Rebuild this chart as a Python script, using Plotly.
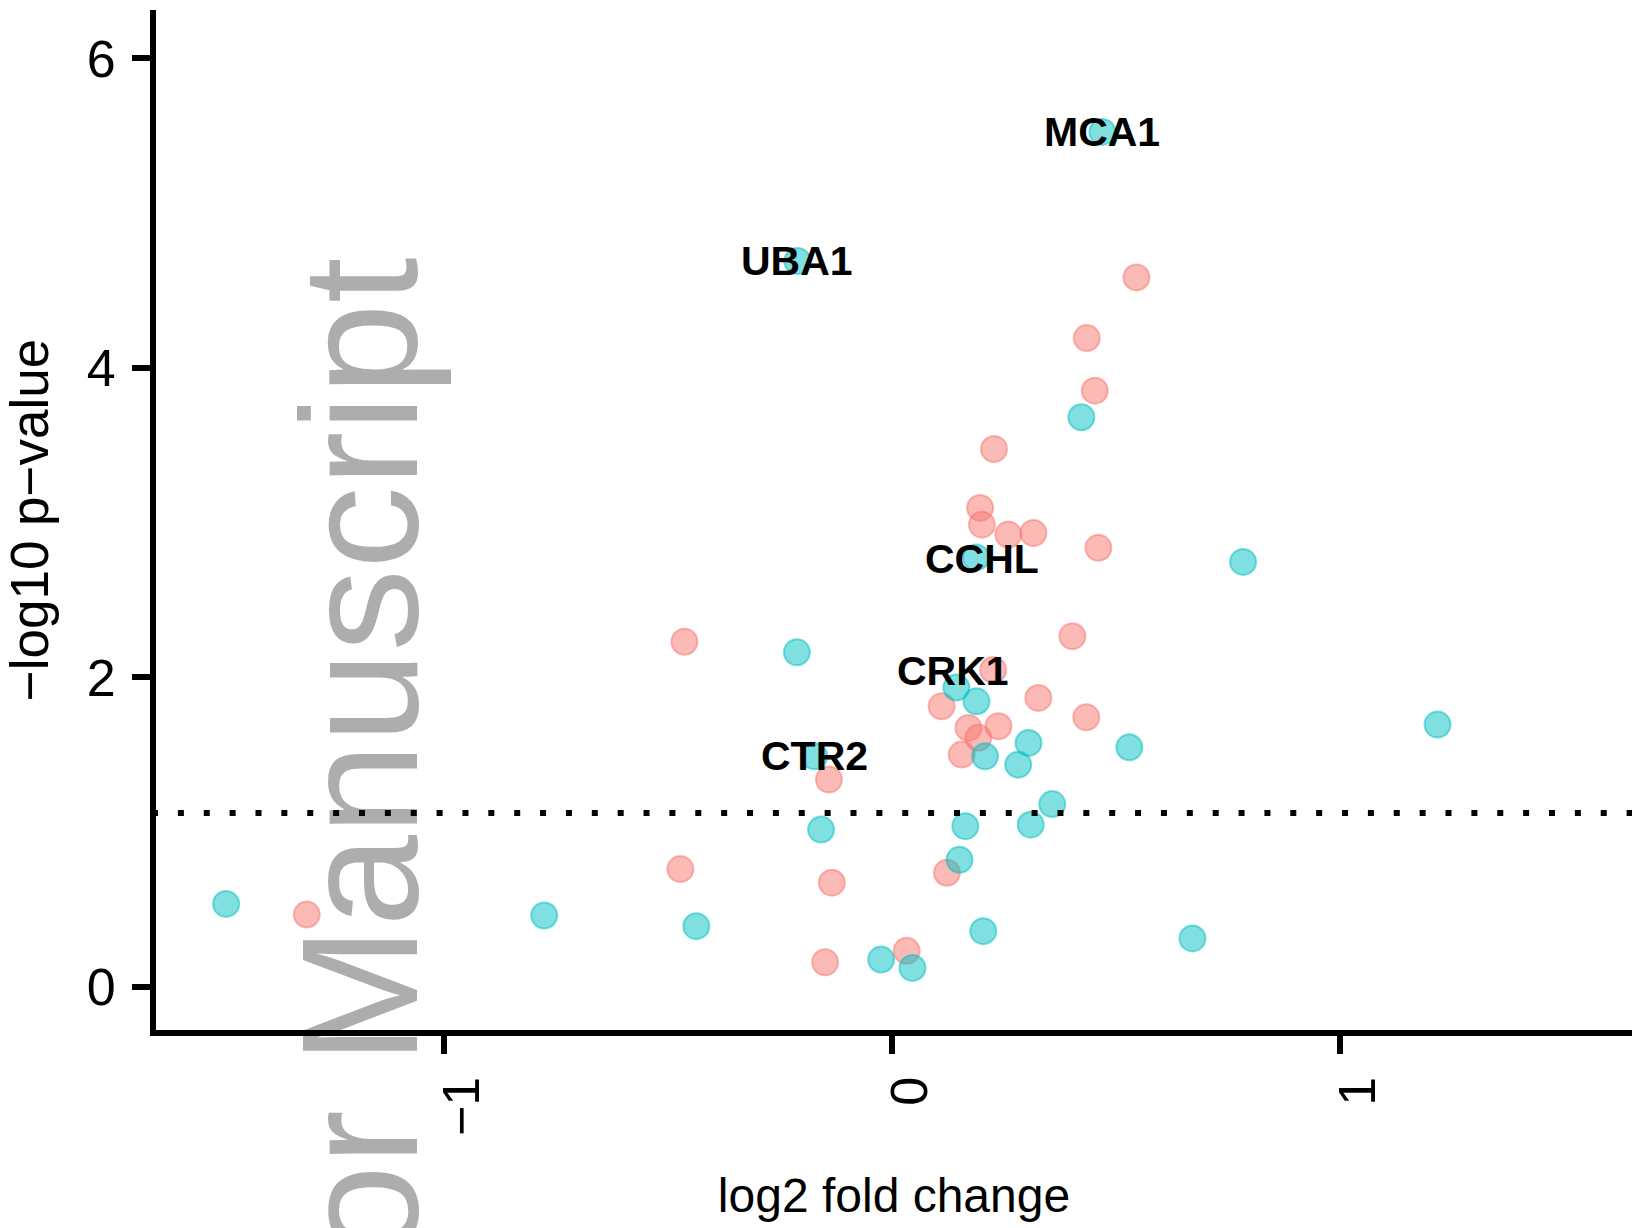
import plotly.graph_objects as go

# ---- data ----
# salmon group
salmon_x = [0.545, 0.434, 0.452, 0.227, 0.196, 0.200, 0.259, 0.315, 0.460, -0.464,
            0.402, 0.225, 0.110, 0.326, 0.433, 0.170, 0.237, 0.192, 0.155, -0.1415,
            -0.473, -0.135, 0.122, -1.307, -0.150, 0.032]
salmon_y = [4.585, 4.193, 3.853, 3.476, 3.095, 2.987, 2.923, 2.933, 2.837, 2.230,
            2.266, 2.048, 1.813, 1.867, 1.742, 1.673, 1.684, 1.609, 1.501, 1.340,
            0.761, 0.673, 0.737, 0.467, 0.159, 0.233]
# teal group
teal_x = [0.469, -0.212, 0.422, 0.187, 0.783, -0.213, 0.143, 0.188, 1.217, 0.529,
          0.304, 0.207, 0.281, -0.174, 0.357, -0.159, 0.163, 0.309, 0.150, -1.487,
          -0.777, -0.4375, 0.203, 0.670, -0.025, 0.045]
teal_y = [5.525, 4.691, 3.681, 2.775, 2.746, 2.162, 1.934, 1.845, 1.695, 1.548,
          1.576, 1.490, 1.436, 1.490, 1.181, 1.016, 1.038, 1.048, 0.821, 0.536,
          0.461, 0.392, 0.360, 0.313, 0.176, 0.122]

gene_labels = ["MCA1", "UBA1", "CCHL", "CRK1", "CTR2"]
label_x = [0.469, -0.212, 0.201, 0.136, -0.174]
label_y = [5.525, 4.691, 2.767, 2.040, 1.490]

threshold = 1.124
x_ticks = [-1, 0, 1]
x_ticktext = ["\u22121", "0", "1"]
y_ticks = [0, 2, 4, 6]
y_ticktext = ["0", "2", "4", "6"]

FONT = "Liberation Sans, Arial, Helvetica, sans-serif"

fig = go.Figure()
fig.add_trace(go.Scatter(
    x=salmon_x, y=salmon_y, mode="markers", showlegend=False,
    marker=dict(size=26, color="rgba(248,118,109,0.5)",
                line=dict(width=2, color="rgba(248,118,109,0.5)")),
))
fig.add_trace(go.Scatter(
    x=teal_x, y=teal_y, mode="markers", showlegend=False,
    marker=dict(size=26, color="rgba(0,191,196,0.5)",
                line=dict(width=2, color="rgba(0,191,196,0.5)")),
))

fig.add_shape(type="line", xref="paper", yref="y", x0=-0.0027, x1=1,
              y0=threshold, y1=threshold,
              line=dict(color="black", width=6, dash="6px,19.87px"))

for name, lx, ly in zip(gene_labels, label_x, label_y):
    fig.add_annotation(x=lx, y=ly, text="<b>%s</b>" % name, showarrow=False,
                       xanchor="center", yanchor="middle",
                       font=dict(family="Liberation Sans Narrow, " + FONT, size=41, color="black"))

# watermark
fig.add_annotation(xref="paper", yref="paper", x=0.1382, y=0.760,
                   xanchor="center", yanchor="top", textangle=-90,
                   text="Author Manuscript", showarrow=False,
                   font=dict(family=FONT, size=165, color="rgba(0,0,0,0.32)"))

axis_common = dict(showline=True, linewidth=6, linecolor="black", ticks="outside",
                   ticklen=18, tickwidth=6, tickcolor="black", showgrid=False,
                   zeroline=False, automargin=False,
                   tickfont=dict(family=FONT, size=52, color="black"))

fig.update_layout(
    width=1632, height=1228, template="none",
    paper_bgcolor="white", plot_bgcolor="white",
    margin=dict(l=156, r=0, t=10, b=198),
    xaxis=dict(range=[-1.6435, 1.6511], tickvals=x_ticks, ticktext=x_ticktext,
               tickangle=-90, ticklabelshift=18, ticklabelstandoff=2,
               title=dict(text="log2 fold change", standoff=45,
                          font=dict(family=FONT, size=48, color="black")),
               **axis_common),
    yaxis=dict(range=[-0.279, 6.313], tickvals=y_ticks, ticktext=y_ticktext,
               ticklabelstandoff=6,
               title=dict(text="\u2212log10 p\u2212value", standoff=38,
                          font=dict(family=FONT, size=53, color="black")),
               **axis_common),
)

fig.write_html("out.html", config={"displayModeBar": False},
               post_script="document.body.style.margin='0';document.body.style.overflow='hidden';")
